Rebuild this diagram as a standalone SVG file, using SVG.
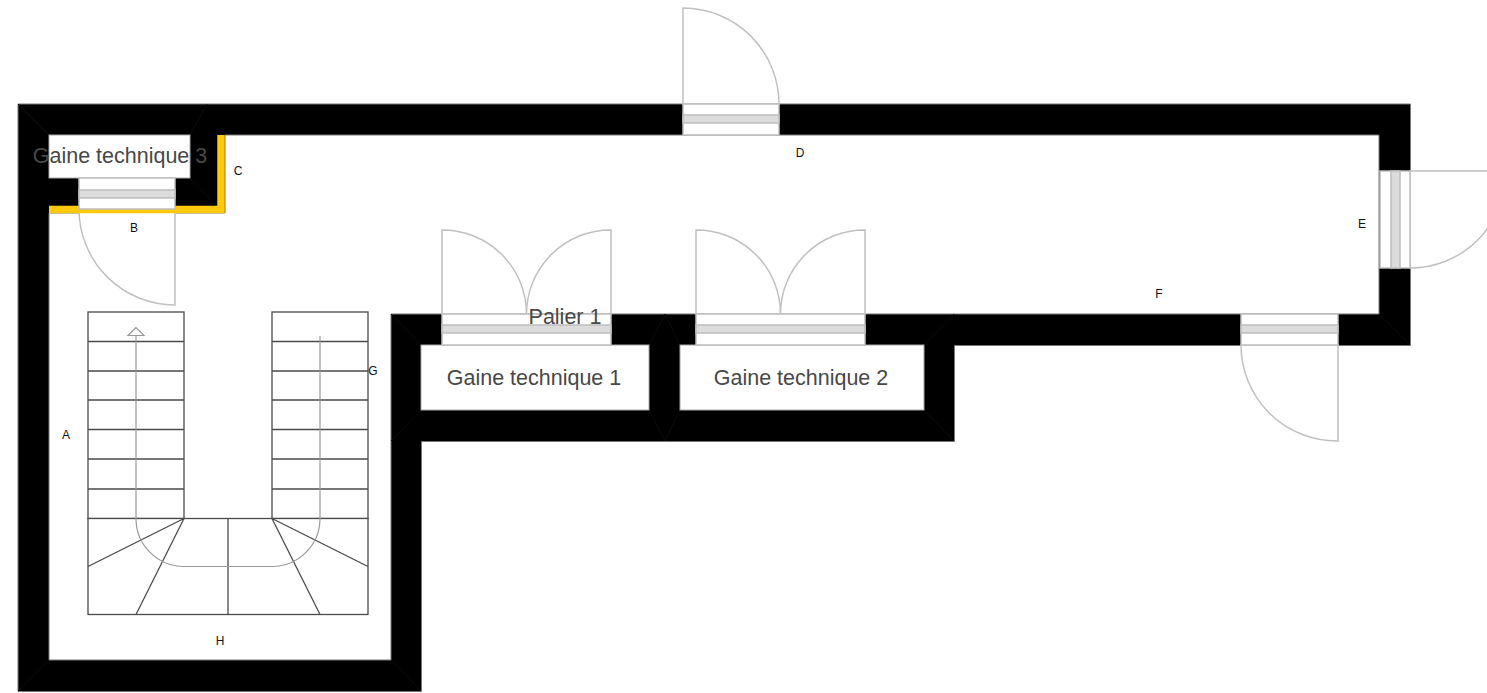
<svg xmlns="http://www.w3.org/2000/svg" width="1487" height="693" viewBox="0 0 1487 693">
<style>
.door{fill:#fff;stroke:#bdbdbd;stroke-width:1.5}
.band{fill:#dcdcdc;stroke:#bdbdbd;stroke-width:1.5}
.leaf{fill:#fff;stroke:#c0c0c0;stroke-width:1.5}
.stair{fill:#fff;stroke:#4a4a4a;stroke-width:1.3}
.line{fill:none;stroke:#4a4a4a;stroke-width:1.3}
.walk{fill:none;stroke:#9a9a9a;stroke-width:1.2}
.room{fill:#fff;stroke:#a8a8a8;stroke-width:1}
.seam{fill:none;stroke:#0b0b0b;stroke-width:1}
text{font-family:"Liberation Sans",Arial,sans-serif}
.big{font-size:21.500px;fill:#484848;text-anchor:middle}
.small{font-size:12px;fill:#111;text-anchor:middle}
</style>
<rect width="1487" height="693" fill="#fff"/>
<g id="walls">
<path d="M18 104H1410.500V345.500H954.500V441.500H421.500V691.500H18Z" fill="#000" stroke="#777" stroke-width="1"/>
<path d="M225 135H1379V314H391V660H49V213H225Z" fill="#fff" stroke="#777" stroke-width="1"/>
<path class="seam" d="M18 104L49 135M1410 345L1379 314M391 314L421 345M421 410L391 441M18 691L49 660M421 691L391 660M190 135L207 104M217 206L190 178M649 345L665 314M680 345L665 314M649 410L665 441M680 410L665 441M924 345L954 314M924 410L954 441"/>
</g>
<g id="rooms">
<rect id="gaine3" class="room" x="49" y="135" width="141" height="43"/>
<rect id="gaine1" class="room" x="421" y="345" width="228" height="65"/>
<rect id="gaine2" class="room" x="680" y="345" width="244" height="65"/>
</g>
<g id="door-b">
<path class="leaf" d="M79 209A96 96 0 0 0 175 305V209Z"/>
<path d="M49 209.500H221V135" fill="none" stroke="#ffc90e" stroke-width="7.500"/>
<rect class="door" x="79" y="178" width="96" height="31"/>
<rect class="band" x="79" y="190" width="96" height="8"/>
</g>
<g id="door-d">
<path class="leaf" d="M683 104V8A96 96 0 0 1 779 104Z"/>
<rect class="door" x="683" y="104" width="96" height="31"/>
<rect class="band" x="683" y="115" width="96" height="8"/>
</g>
<g id="door-e">
<path class="leaf" d="M1410 171H1506A96 96 0 0 1 1410 268Z"/>
<rect class="door" x="1380" y="171" width="30" height="97"/>
<rect class="band" x="1391" y="171" width="9" height="97"/>
</g>
<g id="door-f">
<path class="leaf" d="M1241 345A96 96 0 0 0 1338 441V345Z"/>
<rect class="door" x="1241" y="314" width="97" height="31"/>
<rect class="band" x="1241" y="325" width="97" height="8"/>
</g>
<g id="door-double-1">
<path class="leaf" d="M442 314V230A84 84 0 0 1 526.500 314Z"/>
<path class="leaf" d="M611 314V230A84 84 0 0 0 526.500 314Z"/>
<rect class="door" x="442" y="314" width="169" height="31"/>
<rect class="band" x="442" y="325" width="169" height="8"/>
</g>
<g id="door-double-2">
<path class="leaf" d="M696 314V230A84 84 0 0 1 780.500 314Z"/>
<path class="leaf" d="M865 314V230A84 84 0 0 0 780.500 314Z"/>
<rect class="door" x="696" y="314" width="169" height="31"/>
<rect class="band" x="696" y="325" width="169" height="8"/>
</g>
<g id="stairs">
<rect class="stair" x="88" y="312" width="96" height="206.500"/>
<rect class="stair" x="272" y="312" width="96" height="206.500"/>
<rect class="stair" x="88" y="518.500" width="280" height="96"/>
<path class="line" d="M88 341.500H184M88 371H184M88 400H184M88 429.500H184M88 459H184M88 489H184M272 341.500H368M272 371H368M272 400H368M272 429.500H368M272 459H368M272 489H368M228 518.500V614.500M184 518.500L88 566.500M184 518.500L136 614.500M272 518.500L368 566.500M272 518.500L320 614.500"/>
<path class="walk" d="M320 336V518.500A48 48 0 0 1 272 566.500H184A48 48 0 0 1 136 518.500V335"/>
<path d="M136 327.500L128 335.500H144Z" fill="#fff" stroke="#9a9a9a" stroke-width="1.2"/>
</g>
<g id="labels">
<text class="big" x="120" y="163">Gaine technique 3</text>
<text class="big" x="534" y="385">Gaine technique 1</text>
<text class="big" x="801" y="385">Gaine technique 2</text>
<text class="big" x="565" y="324">Palier 1</text>
<text class="small" x="66" y="439">A</text>
<text class="small" x="134" y="232">B</text>
<text class="small" x="238" y="175">C</text>
<text class="small" x="800" y="157">D</text>
<text class="small" x="1362" y="228">E</text>
<text class="small" x="1159" y="298">F</text>
<text class="small" x="373" y="375">G</text>
<text class="small" x="220" y="645">H</text>
</g>
</svg>
